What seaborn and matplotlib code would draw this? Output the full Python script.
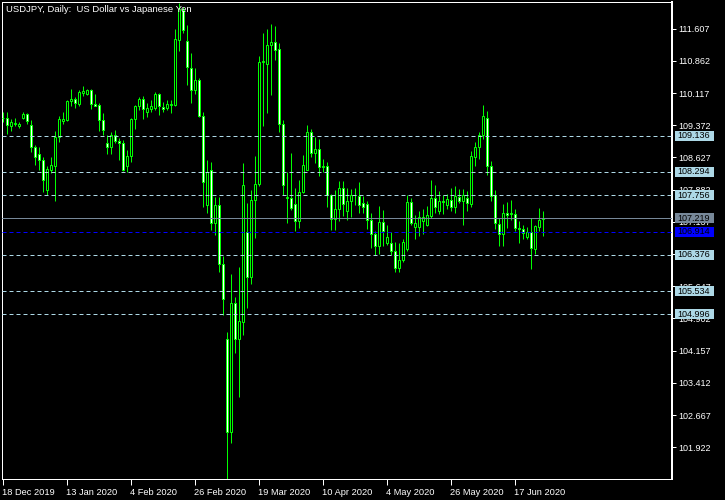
import matplotlib.pyplot as plt
import matplotlib.transforms as mtransforms
import numpy as np
import pandas as pd
import seaborn as sns
from matplotlib.patches import Rectangle

# Chart data
title = "USDJPY, Daily:  US Dollar vs Japanese Yen"
date_labels = [
    "18 Dec 2019", "13 Jan 2020", "4 Feb 2020", "26 Feb 2020", "19 Mar 2020",
    "10 Apr 2020", "4 May 2020", "26 May 2020", "17 Jun 2020",
]
price_ticks = [
    101.922, 102.667, 103.412, 104.157, 104.902, 105.647, 106.392,
    107.137, 107.882, 108.627, 109.372, 110.117, 110.862, 111.607,
]
level_prices = [109.136, 108.294, 107.756, 106.376, 105.534, 104.996]
blue_level = 106.914
bid_price = 107.219
price_range = (101.188, 112.225)

open_ = [
    109.55, 109.54, 109.36, 109.40, 109.36, 109.53, 109.63, 109.38, 108.87, 108.71,
    108.57, 107.88, 108.34, 108.44, 109.10, 109.48, 109.50, 109.93, 109.99, 109.87,
    110.13, 110.09, 110.20, 109.87, 109.85, 109.50, 108.96, 108.88, 109.15, 109.01,
    108.96, 108.42, 108.67, 109.51, 109.81, 109.99, 109.67, 109.76, 109.77, 110.10,
    109.79, 109.78, 109.85, 109.85, 111.34, 112.05, 111.33, 110.70, 110.18, 110.43,
    109.59, 107.52, 108.34, 107.12, 107.53, 106.16, 104.42, 102.27, 105.26, 104.42,
    104.81, 106.90, 105.87, 107.65, 108.01, 110.83, 110.79, 111.24, 111.30, 111.14,
    109.40, 107.68, 107.69, 107.56, 107.15, 107.84, 108.34, 109.21, 108.74, 108.82,
    108.40, 108.44, 107.76, 107.20, 107.43, 107.92, 107.40, 107.61, 107.76, 107.74,
    107.57, 107.56, 107.19, 106.86, 106.59, 107.13, 106.66, 106.66, 106.47, 106.07,
    106.26, 106.50, 107.59, 107.01, 107.01, 107.16, 107.07, 107.28, 107.69, 107.38,
    107.61, 107.53, 107.65, 107.48, 107.71, 107.61, 107.69, 107.56, 108.65, 108.87,
    109.14, 109.54, 108.43, 107.76, 107.09, 106.85, 107.34, 107.31, 107.32, 107.00,
    106.97, 106.78, 106.90, 106.51, 107.02, 107.21,
]
high = [
    109.68, 109.69, 109.52, 109.54, 109.45, 109.69, 109.66, 109.50, 108.92, 108.87,
    108.64, 108.43, 108.64, 109.25, 109.59, 109.68, 109.96, 110.22, 110.03, 110.20,
    110.29, 110.22, 110.22, 110.10, 109.89, 109.66, 109.15, 109.21, 109.27, 109.07,
    109.04, 108.81, 109.54, 109.85, 110.03, 110.04, 109.89, 109.96, 110.15, 110.12,
    109.92, 109.96, 109.96, 111.61, 112.20, 112.12, 111.70, 111.04, 110.70, 110.46,
    109.68, 108.57, 108.53, 107.72, 107.72, 106.35, 104.60, 105.93, 105.39, 106.10,
    108.50, 107.57, 107.88, 108.67, 110.97, 111.51, 111.60, 111.72, 111.66, 111.28,
    109.50, 108.28, 108.73, 107.92, 108.11, 108.69, 109.38, 109.29, 109.11, 109.05,
    108.60, 108.53, 107.78, 107.88, 108.09, 108.09, 107.92, 107.90, 107.93, 108.05,
    107.74, 107.63, 107.34, 106.92, 107.51, 107.42, 107.07, 106.90, 106.68, 106.65,
    106.74, 107.76, 107.70, 107.29, 107.38, 107.43, 107.51, 108.10, 107.99, 107.86,
    107.76, 107.79, 107.93, 107.96, 107.90, 107.90, 107.86, 108.78, 108.99, 109.21,
    109.85, 109.71, 108.55, 107.88, 107.22, 107.56, 107.59, 107.65, 107.44, 107.15,
    107.07, 107.02, 107.22, 107.07, 107.45, 107.38,
]
low = [
    109.45, 109.18, 109.25, 109.35, 109.31, 109.52, 109.40, 108.76, 108.46, 108.34,
    107.84, 107.76, 108.27, 107.63, 108.99, 109.41, 109.48, 109.83, 109.78, 109.81,
    110.06, 110.08, 109.76, 109.81, 109.25, 109.15, 108.71, 108.71, 108.96, 108.57,
    108.32, 108.30, 108.53, 109.29, 109.73, 109.52, 109.56, 109.69, 109.73, 109.60,
    109.69, 109.72, 109.66, 109.82, 111.10, 111.51, 110.31, 109.89, 110.10, 109.56,
    107.49, 107.35, 106.95, 106.84, 105.97, 104.99, 101.19, 102.01, 104.10, 103.09,
    104.52, 105.14, 105.70, 106.76, 107.96, 109.35, 109.66, 110.08, 110.89, 109.21,
    107.76, 107.12, 107.42, 106.92, 107.00, 107.80, 108.33, 108.65, 108.50, 108.19,
    108.30, 107.49, 106.95, 106.94, 107.15, 107.28, 107.19, 107.26, 107.53, 107.35,
    107.35, 106.97, 106.53, 106.36, 106.39, 106.58, 106.61, 106.37, 105.97, 105.97,
    106.20, 106.47, 107.06, 106.74, 106.80, 106.85, 107.05, 107.22, 107.35, 107.32,
    107.32, 107.43, 107.40, 107.35, 107.57, 107.07, 107.38, 107.49, 108.42, 108.60,
    109.05, 108.23, 107.61, 106.98, 106.57, 106.57, 107.00, 107.19, 106.92, 106.66,
    106.75, 106.75, 106.05, 106.39, 106.93, 106.80,
]
close = [
    109.54, 109.37, 109.45, 109.43, 109.40, 109.64, 109.47, 108.86, 108.65, 108.56,
    108.10, 108.37, 108.45, 109.10, 109.52, 109.52, 109.94, 109.99, 109.88, 110.15,
    110.16, 110.20, 109.86, 109.83, 109.49, 109.27, 108.88, 109.15, 109.00, 108.96,
    108.34, 108.66, 109.52, 109.82, 109.99, 109.76, 109.77, 109.81, 110.10, 109.81,
    109.76, 109.87, 109.87, 111.38, 112.07, 111.57, 110.71, 110.18, 110.43, 109.58,
    108.05, 108.29, 107.12, 107.53, 106.16, 105.35, 102.27, 105.26, 104.42, 104.85,
    107.99, 105.87, 107.65, 108.02, 110.84, 110.87, 111.24, 111.30, 111.12, 109.40,
    107.98, 107.72, 107.47, 107.15, 107.84, 108.46, 109.21, 108.73, 108.82, 108.40,
    108.44, 107.76, 107.20, 107.43, 107.92, 107.56, 107.61, 107.76, 107.75, 107.53,
    107.48, 107.19, 106.86, 106.59, 107.13, 106.92, 106.78, 106.47, 106.07, 106.26,
    106.68, 107.59, 107.11, 107.11, 107.26, 107.25, 107.30, 107.69, 107.48, 107.61,
    107.60, 107.67, 107.49, 107.74, 107.61, 107.76, 107.57, 108.67, 108.88, 109.15,
    109.59, 108.42, 107.74, 107.11, 106.85, 107.34, 107.29, 107.35, 107.00, 106.97,
    106.88, 106.90, 106.53, 107.05, 107.18, 107.219,
]

bars = pd.DataFrame({"open": open_, "high": high, "low": low, "close": close})
bars["bar"] = np.arange(len(bars))
bars["body_low"] = bars[["open", "close"]].min(axis=1)
bars["body_height"] = (bars["close"] - bars["open"]).abs()
bars["fill"] = np.where(bars["close"] >= bars["open"], "black", "white")

sns.set_theme(
    style="dark",
    rc={
        "figure.facecolor": "black",
        "axes.facecolor": "black",
        "axes.edgecolor": "white",
        "text.color": "white",
    },
)
plt.rcParams["font.family"] = ["Liberation Sans", "DejaVu Sans"]

W, H = 725, 500
PX = 0.72  # one pixel in points at 100 dpi
GREEN = "#00ff00"

fig = plt.figure(figsize=(W / 100, H / 100), dpi=100)
ax = fig.add_axes([2 / W, 21 / H, 670 / W, 477 / H])

wicks = ax.vlines(bars["bar"], bars["low"], bars["high"], colors=GREEN, lw=PX,
                  zorder=2)
wicks.set_snap(True)
bodies = ax.bar(
    bars["bar"],
    bars["body_height"],
    bottom=bars["body_low"],
    width=0.5,
    color=bars["fill"],
    edgecolor=GREEN,
    linewidth=PX,
    zorder=3,
)
for body in bodies:
    body.set_snap(True)

for level in level_prices:
    ax.axhline(level, color="lightblue", lw=PX, ls=(0, (4, 3)), zorder=4)
ax.axhline(blue_level, color="#0000ff", lw=PX, ls=(0, (4, 3)), zorder=4)
ax.axhline(bid_price, color="#778899", lw=PX, zorder=4)

ax.set_xlim(-0.125, 670 / 4 - 0.125)
ax.set_ylim(*price_range)
ax.grid(False)

ax.yaxis.tick_right()
ax.set_yticks(price_ticks)
ax.set_yticklabels([f"{p:.3f}" for p in price_ticks])
ax.tick_params(axis="y", colors="white", direction="out", length=3, width=PX,
               pad=1.5, labelsize=6.5, right=True, left=False)

ax.set_xticks(bars["bar"].iloc[::16][: len(date_labels)])
ax.set_xticklabels(date_labels)
ax.tick_params(axis="x", colors="white", direction="out", length=4, width=PX,
               pad=2.5, labelsize=6.7, bottom=True)
for label in ax.get_xticklabels():
    label.set_ha("left")

for side, spine in ax.spines.items():
    spine.set_color("white")
    spine.set_linewidth(2 * PX if side == "right" else PX)

# price boxes on the scale
blend = mtransforms.blended_transform_factory(fig.transFigure, ax.transData)
unit = (price_range[1] - price_range[0]) / 477
boxes = [(p, "lightblue") for p in level_prices]
boxes += [(bid_price, "#778899"), (blue_level, "#0000ff")]
for price, color in boxes:
    ax.add_patch(Rectangle((675 / W, price - 5 * unit), 39 / W, 10 * unit,
                           transform=blend, facecolor=color, edgecolor="none",
                           clip_on=False, zorder=5))
    ax.text(677 / W, price, f"{price:.3f}", transform=blend, color="black",
            fontsize=6.5, ha="left", va="center", zorder=6, clip_on=False)

fig.text(6.5 / W, 1 - 10 / H, title, color="white", fontsize=6.8,
         ha="left", va="center")

fig.savefig("out.png", dpi=100, facecolor="black")
